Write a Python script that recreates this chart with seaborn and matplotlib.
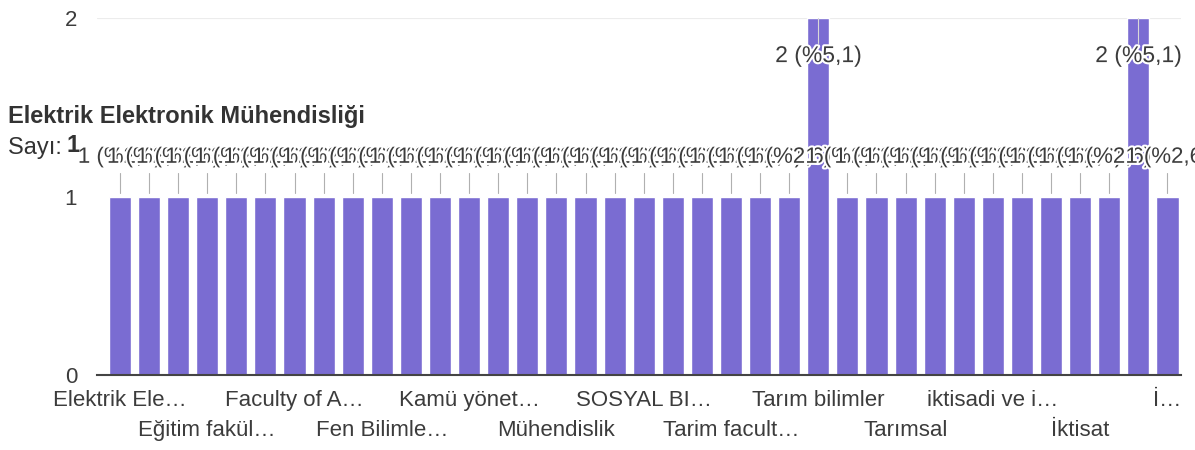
import matplotlib
matplotlib.use("Agg")
import matplotlib.pyplot as plt
import matplotlib.patheffects as pe
import seaborn as sns
import pandas as pd

# fakülte / bölüm adları (görünmeyenler tahmini)
fakulteler = [
    "Elektrik Elektronik Mühendisliği", "Edebiyat Fakültesi", "Eczacılık", "Eğitim fakültesi",
    "Eğitim Bilimleri", "Eğitim", "Faculty of Agriculture", "Fen Edebiyat", "Fen Fakültesi",
    "Fen Bilimleri Enstitüsü", "Güzel Sanatlar", "İletişim", "Kamü yönetimi", "Makine Mühendisliği",
    "Mimarlık", "Mühendislik", "Mühendislik Fakültesi", "Sağlık Bilimleri", "SOSYAL BILIMLER",
    "Spor Bilimleri", "Tarım", "Tarim faculty", "Tarım Fakültesi", "Tarım ekonomisi",
    "Tarım bilimler", "Tarım Bilimleri Fakültesi", "Tarım ve Doğa", "Tarımsal",
    "Tıp Fakültesi", "Veteriner", "iktisadi ve idari bilimler", "İİBF", "İktisadi",
    "İktisat", "İktisat Fakültesi", "İşletme", "İ.İ.B.F",
]
sayilar = [1] * 37
sayilar[24] = 2
sayilar[35] = 2

# eksende görünen kısaltılmış etiketler (her üç çubukta bir, iki sıra)
etiketler = {
    0: "Elektrik Ele…", 3: "Eğitim fakül…", 6: "Faculty of A…", 9: "Fen Bilimle…",
    12: "Kamü yönet…", 15: "Mühendislik", 18: "SOSYAL BI…", 21: "Tarim facult…",
    24: "Tarım bilimler", 27: "Tarımsal", 30: "iktisadi ve i…", 33: "İktisat", 36: "İ…",
}

bar_color = "#7a6cd2"
text_color = "#3c3c3c"

sns.set_style("white")
plt.rcParams["font.family"] = ["Liberation Sans", "DejaVu Sans"]


def plotBars():
    df = pd.DataFrame({"fakulte": fakulteler, "sayi": sayilar})
    toplam = df["sayi"].sum()

    fig = plt.figure(figsize=(11.95, 4.5), dpi=100)
    ax = fig.add_axes([0.0809, 0.1667, 0.907, 0.793])
    sns.barplot(data=df, x="fakulte", y="sayi", color=bar_color, width=0.76,
                saturation=1, ax=ax, zorder=2)

    ax.set_xlim(-0.8, 36.45)
    ax.set_ylim(0, 2)
    ax.set_yticks([0, 1, 2])
    ax.set_yticklabels(["0", "1", "2"], fontsize=16, color=text_color)
    ax.tick_params(axis="y", length=0, pad=14)
    ax.axhline(2, color="#ececec", lw=0.8, zorder=0)

    ax.set_xticks(range(len(fakulteler)))
    labels = []
    for i in range(len(fakulteler)):
        lab = etiketler.get(i, "")
        if lab and (i // 3) % 2 == 1:
            lab = "\n" + lab
        labels.append(lab)
    ax.set_xticklabels(labels, fontsize=16, color=text_color, linespacing=1.55)
    ax.tick_params(axis="x", length=0, pad=11)
    ax.set_xlabel("")
    ax.set_ylabel("")
    sns.despine(ax=ax, left=True, top=True, right=True)
    ax.spines["bottom"].set_color("#444444")
    ax.spines["bottom"].set_linewidth(1.5)

    halo = [pe.withStroke(linewidth=3, foreground="white")]
    for i, v in enumerate(sayilar):
        yuzde = "{:.1f}".format(v * 100 / toplam).replace(".", ",")
        txt = "{} (%{})".format(v, yuzde)
        if v == 1:
            ax.plot([i, i], [1.02, 1.13], color="#b0b0b0", lw=0.8, zorder=3)
            ax.text(i, 1.22, txt, ha="center", va="center", fontsize=16,
                    color=text_color, path_effects=halo, zorder=4)
        else:
            ax.plot([i, i], [1.86, 2.0], color="#d8d8d8", lw=0.8, zorder=3)
            ax.text(i, 1.79, txt, ha="center", va="center", fontsize=16.5,
                    color=text_color, path_effects=halo, zorder=4)

    # üstteki ipucu kutusu
    fig.text(8 / 1195, 1 - 117 / 450, "Elektrik Elektronik Mühendisliği", fontsize=17,
             fontweight="bold", color="#333333", va="center")
    fig.text(8 / 1195, 1 - 148 / 450, "Sayı: ", fontsize=17, color="#333333", va="center")
    fig.text(67 / 1195, 1 - 146 / 450, "1", fontsize=17, fontweight="bold",
             color="#333333", va="center")

    fig.savefig("out.png", dpi=100)


def main():
    plotBars()


if __name__ == "__main__":
    main()
